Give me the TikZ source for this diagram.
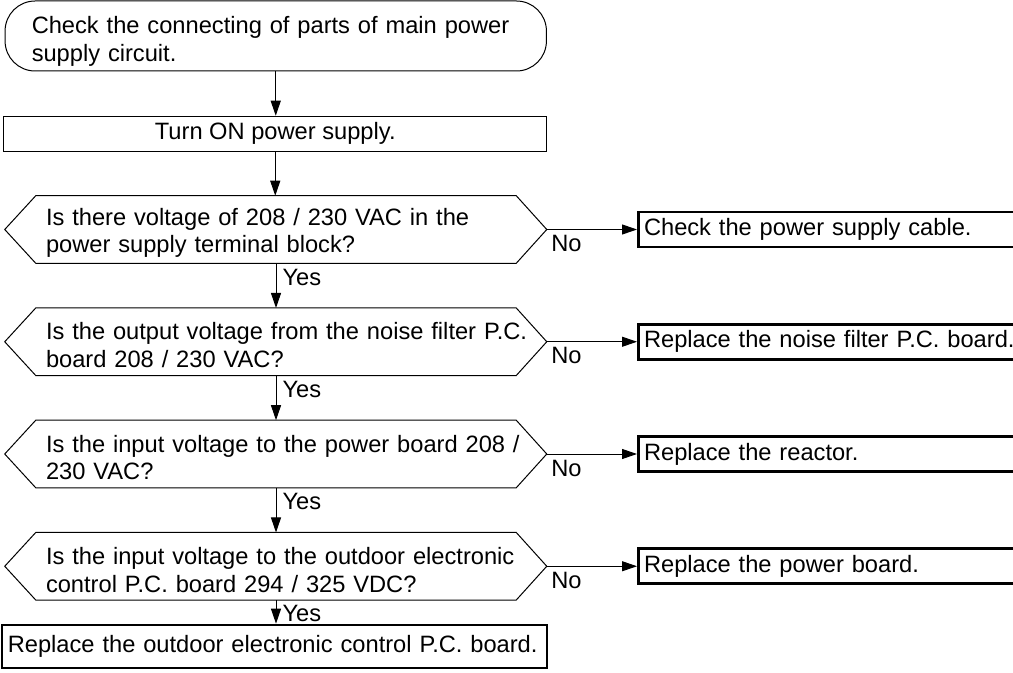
\documentclass[tikz,border=0pt]{standalone}
\usepackage{fontspec}
\setmainfont{Liberation Sans}
\usetikzlibrary{arrows.meta,calc}
\newcommand{\dstrut}{\rule{0pt}{18pt}}
\newcommand{\tstrut}{\rule{0pt}{20.5pt}}
\begin{document}
\begin{tikzpicture}[x=0.75pt,y=-0.75pt,
  every node/.style={font=\fontsize{17.75pt}{20.8pt}\selectfont},
  term/.style={draw, line width=0.75pt, rounded corners=22.5pt, text width=366pt, inner xsep=20pt, inner ysep=0pt, minimum height=52.5pt, align=left},
  proc/.style={draw, line width=0.75pt, minimum width=407.6pt, minimum height=26.25pt, inner sep=0pt},
  dec/.style={minimum width=360pt, minimum height=50.25pt, text width=345pt, inner xsep=7.5pt, inner ysep=0pt, align=left},
  hexa/.style={line width=0.75pt, line join=miter},
  res/.style={draw, line width=2pt, anchor=west, text width=290pt, inner xsep=4.25pt, inner ysep=0pt, minimum height=26.25pt, align=left},
  fin/.style={draw, line width=2pt, text width=400pt, inner xsep=4.4pt, minimum height=32.25pt, inner ysep=0pt, align=left},
  arr/.style={line width=0.75pt, -{Triangle[length=11.25pt,width=7.5pt]}},
  lbl/.style={inner sep=0pt, anchor=north west}
]
\useasboundingbox (0,0) rectangle (1013,673);
\fill[white] (0,0) rectangle (1013,673);
\clip (0,0) rectangle (1013,673);

% main column
\node[term] (t1) at (275.75,36) {\tstrut\mbox{Check the connecting of parts of main power}\\\mbox{supply circuit.}};
\node[proc] (t2) at (275.25,133.75) {Turn ON power supply.};

\node[dec] (d1) at (276,229.5) {\dstrut\mbox{Is there voltage of 208 / 230 VAC in the}\\\mbox{power supply terminal block?}};
\node[dec] (d2) at (276,341.75) {\dstrut\mbox{Is the output voltage from the noise filter P.C.}\\\mbox{board 208 / 230 VAC?}};
\node[dec] (d3) at (276,454) {\dstrut\mbox{Is the input voltage to the power board 208 /}\\\mbox{230 VAC?}};
\node[dec] (d4) at (276,566.25) {\dstrut\mbox{Is the input voltage to the outdoor electronic}\\\mbox{control P.C. board 294 / 325 VDC?}};

\foreach \d in {d1,d2,d3,d4}{
  \coordinate (\d e) at ($(\d.east)+(30.5,0)$);
  \coordinate (\d w) at ($(\d.west)+(-31,0)$);
  \draw[hexa] (\d.north west) -- (\d.north east) -- (\d e) -- (\d.south east)
     -- (\d.south west) -- (\d w) -- cycle;
}

\node[fin] (f) at (274.5,646.5) {\mbox{Replace the outdoor electronic control P.C. board.}};

% results
\node[res] (r1) at (637,229.5) {\mbox{Check the power supply cable.}};
\node[res] (r2) at (637,341.75) {\mbox{Replace the noise filter P.C. board.}};
\node[res] (r3) at (637,454) {\mbox{Replace the reactor.}};
\node[res] (r4) at (637,566.25) {\mbox{Replace the power board.}};

% vertical connectors
\draw[arr] (t1.south) -- (t1.south |- t2.north);
\draw[arr] (t2.south) -- (t2.south |- d1.north);
\draw[arr] (d1.south) -- node[lbl, at start, xshift=4.5pt, yshift=-3.75pt] {Yes} (d2.north);
\draw[arr] (d2.south) -- node[lbl, at start, xshift=4.5pt, yshift=-3.75pt] {Yes} (d3.north);
\draw[arr] (d3.south) -- node[lbl, at start, xshift=4.5pt, yshift=-3.75pt] {Yes} (d4.north);
\draw[arr] (d4.south) -- node[lbl, at start, xshift=4.5pt, yshift=-3.75pt] {Yes} (d4.south |- f.north);

% No connectors
\draw[arr] (d1e) -- node[lbl, at start, xshift=3pt, yshift=-4.1pt] {No} (r1.west);
\draw[arr] (d2e) -- node[lbl, at start, xshift=3pt, yshift=-4.1pt] {No} (r2.west);
\draw[arr] (d3e) -- node[lbl, at start, xshift=3pt, yshift=-4.1pt] {No} (r3.west);
\draw[arr] (d4e) -- node[lbl, at start, xshift=3pt, yshift=-4.1pt] {No} (r4.west);
\end{tikzpicture}
\end{document}
